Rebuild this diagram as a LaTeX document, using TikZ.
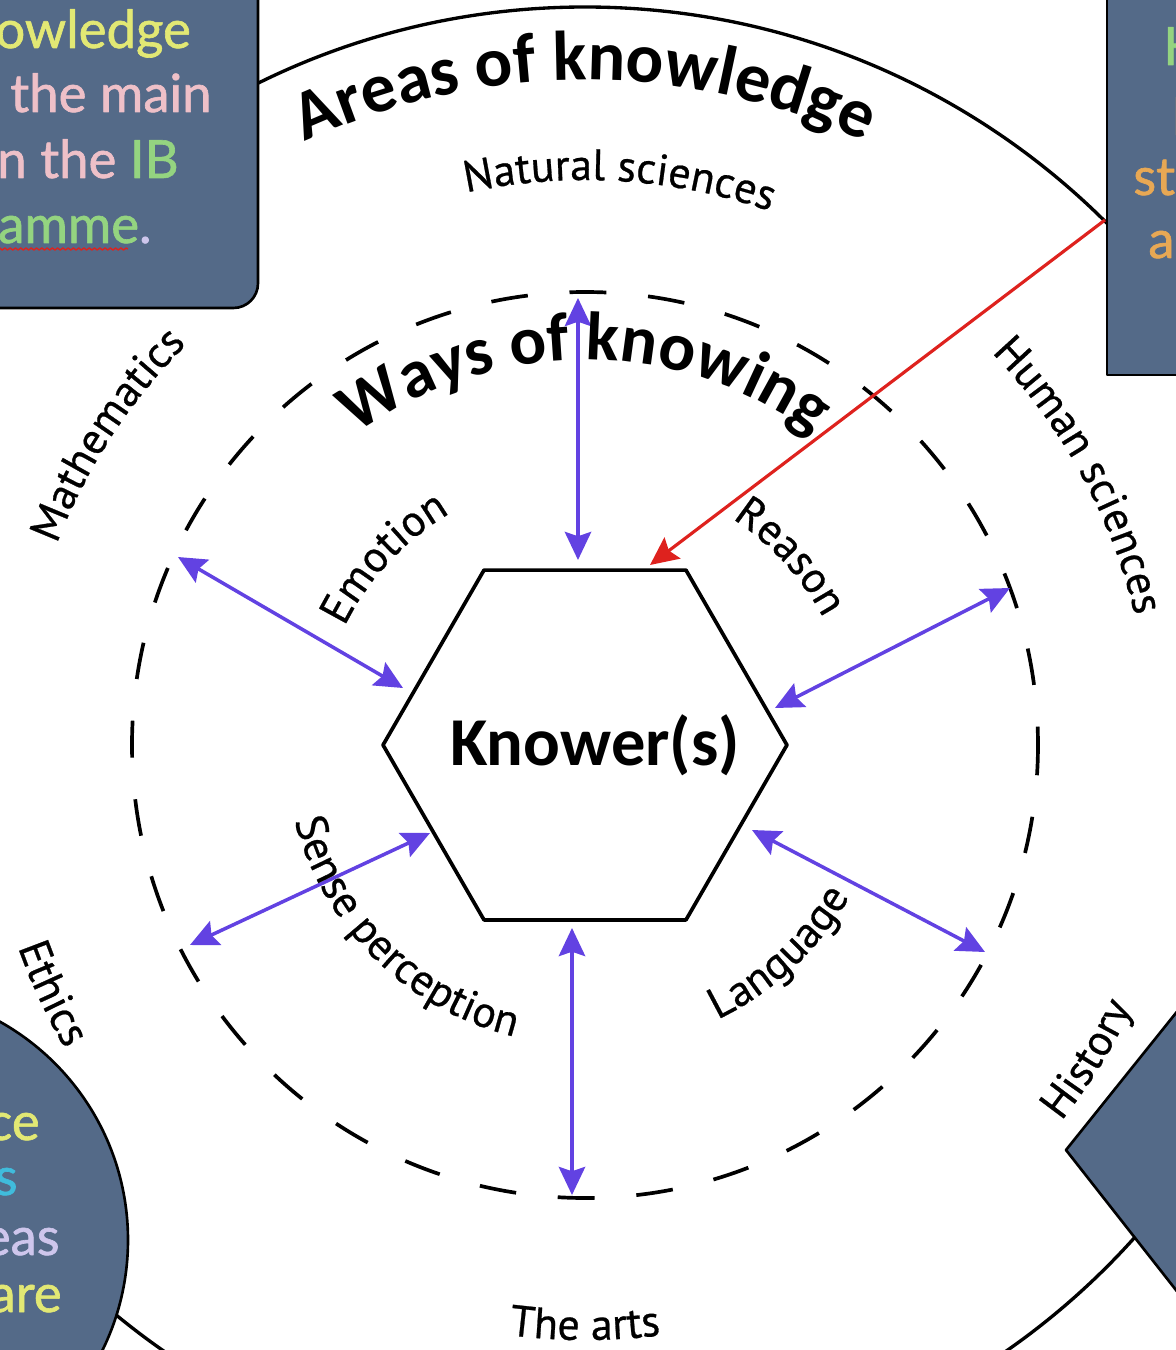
\documentclass[tikz,border=0pt]{standalone}
\usepackage{fontspec}
\setmainfont{Carlito}
\newfontfamily\lblfont[FakeBold=0.6]{PT Sans}
\newfontfamily\boxfont[FakeBold=1.2]{Lato}
\usetikzlibrary{shapes.geometric,decorations.text,decorations.pathmorphing,arrows.meta,calc}
\definecolor{slate}{RGB}{84,106,136}
\definecolor{wokblue}{RGB}{98,66,226}
\definecolor{kred}{RGB}{222,34,30}
\definecolor{tyellow}{RGB}{226,232,116}
\definecolor{tpink}{RGB}{238,192,200}
\definecolor{tgreen}{RGB}{148,212,128}
\definecolor{torange}{RGB}{232,168,84}
\definecolor{tcyan}{RGB}{64,188,220}
\definecolor{tlilac}{RGB}{206,198,236}
\newcommand\lblsize{\lblfont\fontsize{25}{29}\selectfont}
\newcommand\bigsize{\bfseries\fontsize{40}{44}\selectfont}
\newcommand\midsize{\bfseries\fontsize{39}{43}\selectfont}
\tikzset{
  box/.style={fill=slate,draw=black,line width=1.5pt},
  boxtext/.style={font=\boxfont\fontsize{30}{34}\selectfont,inner sep=0pt},
  wok/.style={wokblue,line width=2pt,<->},
  curved/.style={decorate,decoration={text along path,text align=center,text={#1}}},
}
\begin{document}
\begin{tikzpicture}[x=0.02cm,y=0.02cm,>={Stealth[length=16pt,width=15pt,inset=2.5pt]},line join=round]
  \useasboundingbox (-585,-605) rectangle (591,745);
  \clip (-585,-605) rectangle (591,745);
  \draw[line width=1.9pt] (0,0) circle[radius=738];
  % boxes round the outer circle
  \draw[box,rounded corners=14pt] (-700,900) rectangle (-327,437);
  \draw[box] (522,370) rectangle (700,900);
  \draw[box] (-707,-495) circle[radius=250];
  \draw[box] (481,-405) -- (781,-31) -- (1100,-405) -- (781,-787) -- cycle;
  \node[boxtext,anchor=base west,text=tyellow] (tlA) at (-590,697) {owledge};
  \node[boxtext,anchor=base west,text=tpink] (tlB) at (-575,633) {the main};
  \node[boxtext,anchor=base west] (tlC) at (-588,567) {\textcolor{tpink}{n the }\textcolor{tgreen}{IB}};
  \node[boxtext,anchor=base west] (tlD) at (-587,502) {\textcolor{tgreen}{amme}\textcolor{tlilac}{.}};
  \draw[kred,line width=0.8pt,decorate,decoration={snake,amplitude=0.6pt,segment length=3pt}] ($(tlD.base west)+(0,-6)$) -- ($(tlD.base west)+(130,-6)$);
  \node[boxtext,anchor=base west,text=tgreen] (trA) at (578,680) {K};
  \node[boxtext,anchor=base west,text=torange] (trB) at (586,610) {I};
  \node[boxtext,anchor=base west,text=torange] (trC) at (548,550) {st};
  \node[boxtext,anchor=base west,text=torange] (trD) at (563,487) {ar};
  \node[boxtext,anchor=base east,text=tyellow] (blA) at (-545,-395) {ce};
  \node[boxtext,anchor=base east,text=tcyan] (blB) at (-567,-450) {s};
  \node[boxtext,anchor=base east,text=tlilac] (blC) at (-525,-510) {eas};
  \node[boxtext,anchor=base east,text=tyellow] (blD) at (-523,-567) {are};
  % ways of knowing
  \draw[line width=2.1pt,dash pattern=on 21pt off 23.82pt,dash phase=10.5pt] (0,0) circle[radius=453];
  \node[draw,line width=2.1pt,regular polygon,regular polygon sides=6,minimum size=8.08cm,inner sep=0pt] (knower) at (0,0) {};
  \node[font=\midsize,inner sep=0pt] (knowerlbl) at ($(knower.center)+(10,0)$) {Knower(s)};
  \coordinate (wTop) at (-7,447);
  \coordinate (wEmo) at (-407,188);
  \coordinate (wRea) at (425,157);
  \coordinate (wSen) at (-395,-200);
  \coordinate (wLan) at (400,-207);
  \coordinate (wBot) at (-13,-450);
  \coordinate (redfoot) at (520,525);
  \draw[wok] (wTop) -- ($(knower.center)+(-7,185)$);
  \draw[wok] (wEmo) -- ($(knower.center)+(-182,57)$);
  \draw[wok] (wRea) -- ($(knower.center)+(190,37)$);
  \draw[wok] (wSen) -- ($(knower.center)+(-155,-88)$);
  \draw[wok] (wLan) -- ($(knower.center)+(167,-85)$);
  \draw[wok] (wBot) -- ($(knower.center)+(-13,-183)$);
  \draw[kred,line width=1.8pt,->] (redfoot) -- ($(knower.center)+(65,180)$);
  % labels
  \path[curved={|\bigsize|Areas of knowledge}] (140:665) arc[start angle=140,end angle=40,radius=665];
  \path[curved={|\midsize|Ways of knowing}] (150:385) arc[start angle=150,end angle=30,radius=385];
  \path[curved={|\lblsize|Natural sciences}] (120:565) arc[start angle=120,end angle=53,radius=565];
  \path[curved={|\lblsize|Mathematics}] (177:565) arc[start angle=177,end angle=117,radius=565];
  \path[curved={|\lblsize|Human sciences}] (58.6:565) arc[start angle=58.6,end angle=-1.4,radius=565];
  \path[curved={|\lblsize|Emotion}] (167:268) arc[start angle=167,end angle=107,radius=268];
  \path[curved={|\lblsize|Reason}] (72.5:270) arc[start angle=72.5,end angle=12.5,radius=270];
  \path[curved={|\lblsize|Ethics}] (185:602) arc[start angle=185,end angle=225,radius=602];
  \path[curved={|\lblsize|History}] (308:607) arc[start angle=308,end angle=348,radius=607];
  \path[curved={|\lblsize|The arts}] (250:595) arc[start angle=250,end angle=290,radius=595];
  \path[curved={|\lblsize|Sense perception}] (180.5:300) arc[start angle=180.5,end angle=270.5,radius=300];
  \path[curved={|\lblsize|Language}] (283:305) arc[start angle=283,end angle=343,radius=305];
\end{tikzpicture}
\end{document}
